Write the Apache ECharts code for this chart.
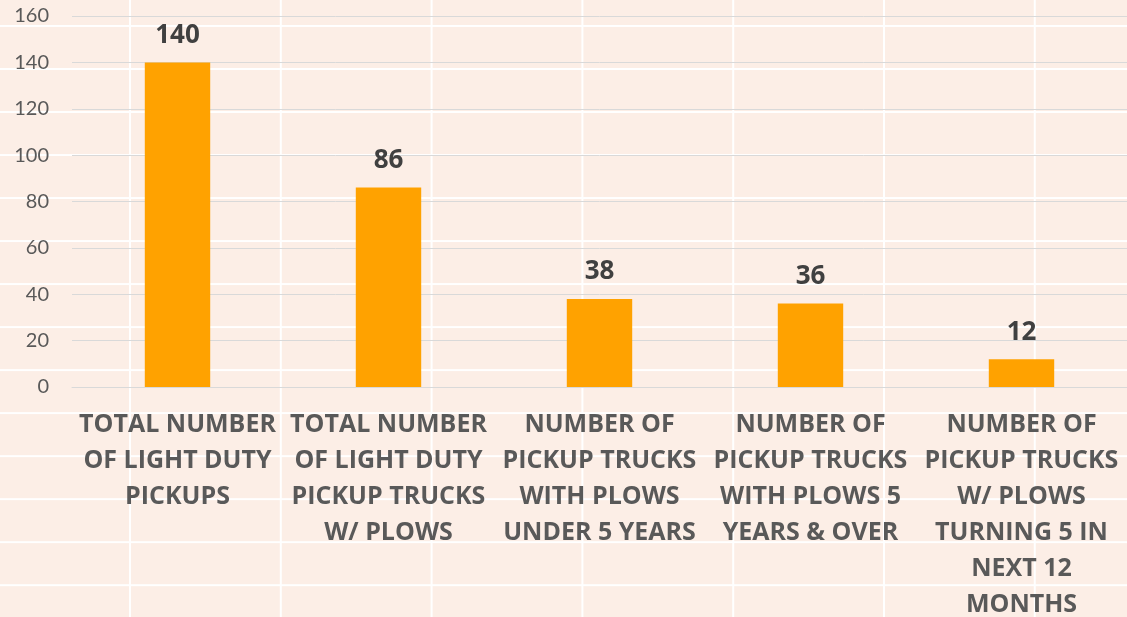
<!DOCTYPE html>
<html>
<head>
<meta charset="utf-8">
<script src="https://cdn.jsdelivr.net/npm/echarts@6/dist/echarts.min.js"></script>
<style>
html,body{margin:0;padding:0;}
#chart{
  width:1127px;height:617px;
  background-color:#FCEEE6;
  background-image:
    linear-gradient(to right, #ffffff 2px, transparent 2px),
    linear-gradient(to bottom, #ffffff 2px, transparent 2px);
  background-size:150.8px 100%, 100% 43.02px;
  background-position:129px 0, 0 25px;
}
</style>
</head>
<body>
<div id="chart"></div>
<script>
const categories = [
  'TOTAL NUMBER\nOF LIGHT DUTY\nPICKUPS',
  'TOTAL NUMBER\nOF LIGHT DUTY\nPICKUP TRUCKS\nW/ PLOWS',
  'NUMBER OF\nPICKUP TRUCKS\nWITH PLOWS\nUNDER 5 YEARS',
  'NUMBER OF\nPICKUP TRUCKS\nWITH PLOWS 5\nYEARS & OVER',
  'NUMBER OF\nPICKUP TRUCKS\nW/ PLOWS\nTURNING 5 IN\nNEXT 12\nMONTHS'
];
const values = [140, 86, 38, 36, 12];
const yMin = 0, yMax = 160, yStep = 20;

const chart = echarts.init(document.getElementById('chart'));
chart.setOption({
  backgroundColor: 'transparent',
  animation: false,
  grid: {left: 72, right: 0, top: 16, bottom: 230, containLabel: false, outerBoundsMode: 'none'},
  xAxis: {
    type: 'category',
    data: categories,
    axisLine: {show: true, lineStyle: {color: '#D9D9D9', width: 1}},
    axisTick: {show: false},
    axisLabel: {
      interval: 0, margin: 20,
      color: '#595959', fontFamily: 'Open Sans', fontWeight: 'bold', fontSize: 25,
      lineHeight: 36, align: 'center'
    },
    splitLine: {show: false}
  },
  yAxis: {
    type: 'value', min: yMin, max: yMax, interval: yStep,
    axisLine: {show: false}, axisTick: {show: false},
    axisLabel: {margin: 23, color: '#595959', fontFamily: 'Lato', fontSize: 20},
    splitLine: {lineStyle: {color: '#D9D9D9', width: 1}}
  },
  series: [{
    type: 'bar',
    data: values,
    barWidth: '31%',
    itemStyle: {color: '#FFA200'},
    label: {
      show: true, position: 'top', distance: 14,
      color: '#404040', fontFamily: 'Open Sans', fontWeight: 'bold', fontSize: 26
    }
  }]
});
</script>
</body>
</html>
